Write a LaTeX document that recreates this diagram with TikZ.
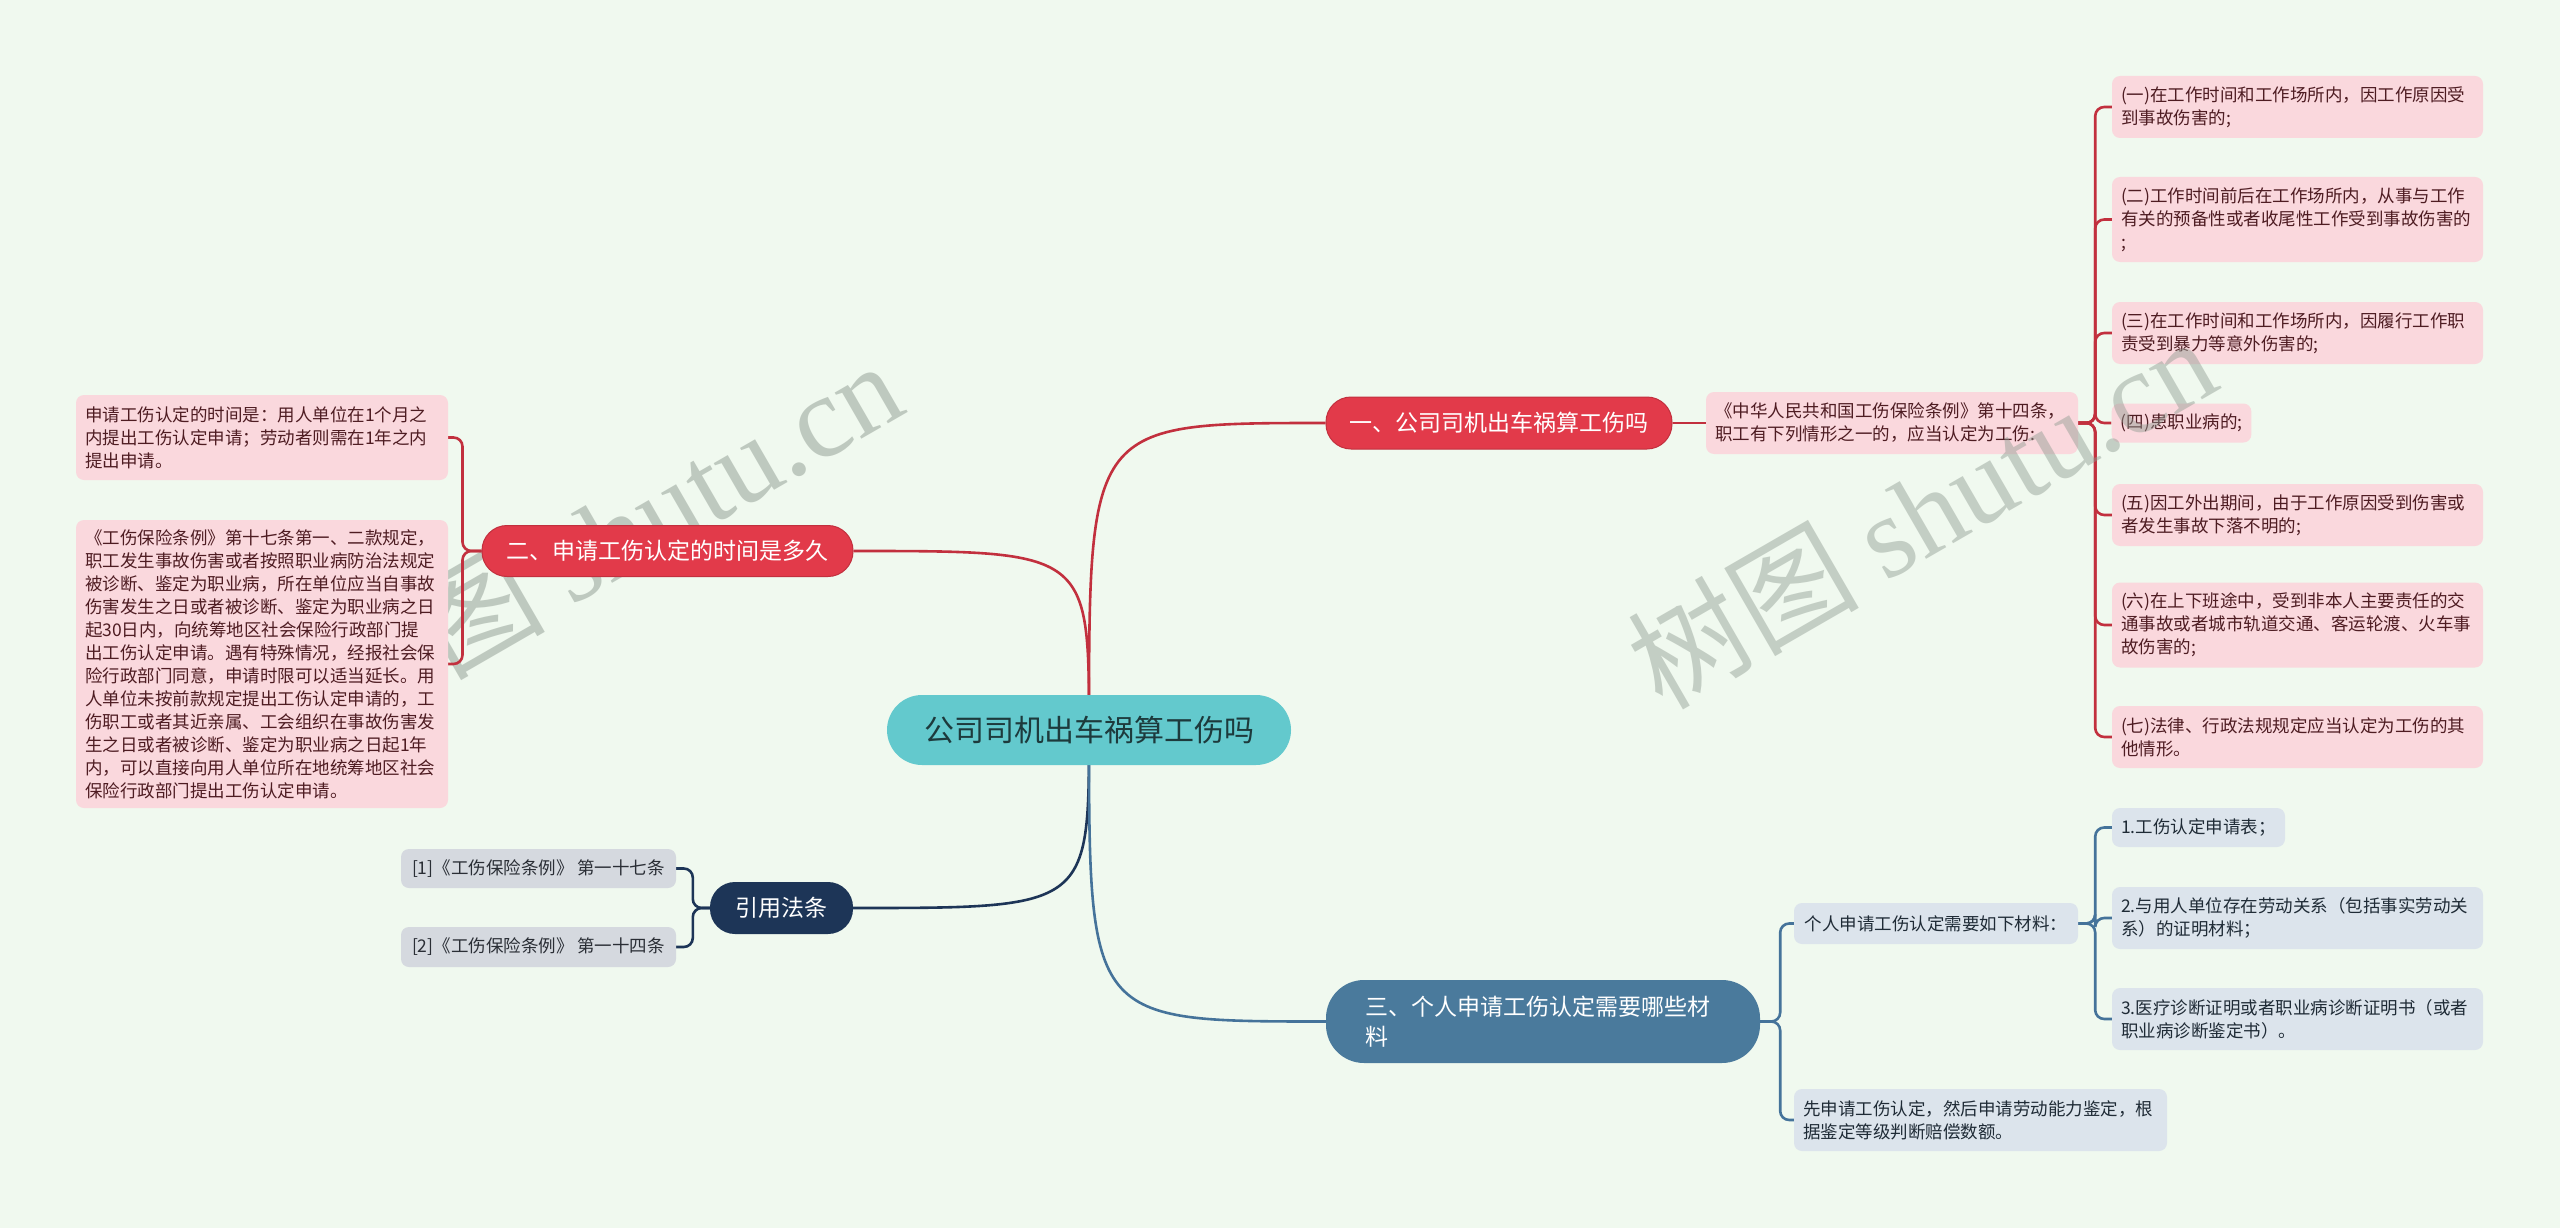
\documentclass[tikz,border=0pt]{standalone}
\usepackage{fontspec}
\setmainfont{Noto Sans CJK SC}
\newfontfamily\wmserif{Liberation Serif}
\usetikzlibrary{calc}
\definecolor{bgc}{HTML}{F0F9EF}
\definecolor{redb}{HTML}{E23A4A}
\definecolor{redline}{HTML}{C2303E}
\definecolor{pinkleaf}{HTML}{FAD8DD}
\definecolor{pinktext}{HTML}{4E1C22}
\definecolor{tealc}{HTML}{63C9CD}
\definecolor{tealtext}{HTML}{1D3A3C}
\definecolor{navy}{HTML}{1D3557}
\definecolor{grayleaf}{HTML}{D5D9DF}
\definecolor{graytext}{HTML}{2A2E35}
\definecolor{blueb}{HTML}{4A7A9C}
\definecolor{blueline}{HTML}{45739A}
\definecolor{blueleaf}{HTML}{DCE4EC}
\definecolor{bluetext}{HTML}{1F2B36}
\definecolor{wmc}{HTML}{8E9A90}
\pgfdeclarelayer{back}
\pgfdeclarelayer{lines}
\pgfdeclarelayer{front}
\pgfsetlayers{back,lines,main,front}
\tikzset{
  box/.style={rounded corners=8pt, inner xsep=9pt, inner ysep=4pt, align=left, font=\fontsize{17.5}{23}\selectfont},
  pinkbox/.style={box, fill=pinkleaf, text=pinktext},
  graybox/.style={box, fill=grayleaf, text=graytext},
  bluebox/.style={box, fill=blueleaf, text=bluetext},
  branch/.style={rounded corners=25pt, inner xsep=14pt, align=center, font=\fontsize{23}{30}\selectfont, text=white},
  redbranch/.style={branch, fill=redb, draw=redline, line width=1pt},
  conn/.style={line width=2.6pt},
  brk/.style={conn, rounded corners=9pt},
  wmark/.style={text=wmc, font=\fontsize{116}{116}\selectfont, inner sep=0pt, anchor=base west, rotate=30},
}
\begin{document}
\begin{tikzpicture}[x=1pt,y=-1pt]
\begin{pgfonlayer}{back}
\fill[bgc] (0,0) rectangle (2560,1228);
\node[wmark, opacity=0.5] (wmleft) at (348,736) {树图 {\wmserif shutu.cn}};
\end{pgfonlayer}
\useasboundingbox (0,0) rectangle (2560,1228);

% root
\node[rounded corners=35pt, fill=tealc, text=tealtext, minimum width=404pt, minimum height=70pt, font=\fontsize{30}{36}\selectfont] (root) at (1089,730) {公司司机出车祸算工伤吗};

% branch 1
\node[redbranch, minimum width=346pt, minimum height=52pt] (b1) at (1499,423) {一、公司司机出车祸算工伤吗};
\node[pinkbox, text width=354pt, minimum height=62pt] (mid) at (1892,423) {《中华人民共和国工伤保险条例》第十四条，\\职工有下列情形之一的，应当认定为工伤:};
\node[pinkbox, text width=353pt, minimum height=62pt] (r1) at (2297.5,107) {(一)在工作时间和工作场所内，因工作原因受\\到事故伤害的;};
\node[pinkbox, text width=353pt, minimum height=85pt] (r2) at (2297.5,219.5) {(二)工作时间前后在工作场所内，从事与工作\\有关的预备性或者收尾性工作受到事故伤害的\\;};
\node[pinkbox, text width=353pt, minimum height=62pt] (r3) at (2297.5,333) {(三)在工作时间和工作场所内，因履行工作职\\责受到暴力等意外伤害的;};
\node[pinkbox, minimum width=139pt, minimum height=39pt] (r4) at (2181.5,423) {(四)患职业病的;};
\node[pinkbox, text width=353pt, minimum height=62pt] (r5) at (2297.5,515) {(五)因工外出期间，由于工作原因受到伤害或\\者发生事故下落不明的;};
\node[pinkbox, text width=353pt, minimum height=85pt] (r6) at (2297.5,625) {(六)在上下班途中，受到非本人主要责任的交\\通事故或者城市轨道交通、客运轮渡、火车事\\故伤害的;};
\node[pinkbox, text width=353pt, minimum height=62pt] (r7) at (2297.5,737) {(七)法律、行政法规规定应当认定为工伤的其\\他情形。};

% branch 2
\node[redbranch, minimum width=371pt, minimum height=51pt] (b2) at (667.5,551) {二、申请工伤认定的时间是多久};
\node[pinkbox, text width=354pt, minimum height=85pt] (l1) at (262,437.5) {申请工伤认定的时间是：用人单位在1个月之\\内提出工伤认定申请；劳动者则需在1年之内\\提出申请。};
\node[pinkbox, text width=354pt, minimum height=288pt] (l2) at (262,664) {《工伤保险条例》第十七条第一、二款规定，\\职工发生事故伤害或者按照职业病防治法规定\\被诊断、鉴定为职业病，所在单位应当自事故\\伤害发生之日或者被诊断、鉴定为职业病之日\\起30日内，向统筹地区社会保险行政部门提\\出工伤认定申请。遇有特殊情况，经报社会保\\险行政部门同意，申请时限可以适当延长。用\\人单位未按前款规定提出工伤认定申请的，工\\伤职工或者其近亲属、工会组织在事故伤害发\\生之日或者被诊断、鉴定为职业病之日起1年\\内，可以直接向用人单位所在地统筹地区社会\\保险行政部门提出工伤认定申请。};

% citations
\node[branch, fill=navy, minimum width=143pt, minimum height=52pt] (nv) at (781.5,908) {引用法条};
\node[graybox, minimum width=275pt, minimum height=39pt] (g1) at (538.5,868.5) {[1]《工伤保险条例》 第一十七条};
\node[graybox, minimum width=275pt, minimum height=40pt] (g2) at (538.5,947) {[2]《工伤保险条例》 第一十四条};

% branch 3
\node[branch, fill=blueb, align=left, rounded corners=38pt, inner xsep=39pt, text width=356pt, minimum height=83pt] (b3) at (1543,1021.5) {三、个人申请工伤认定需要哪些材\\料};
\node[bluebox, minimum width=284pt, minimum height=41pt] (ba) at (1936,923.5) {个人申请工伤认定需要如下材料：};
\node[bluebox, text width=355pt, minimum height=62pt] (bb) at (1980.5,1120) {先申请工伤认定，然后申请劳动能力鉴定，根\\据鉴定等级判断赔偿数额。};
\node[bluebox, minimum width=173pt, minimum height=39pt] (s1) at (2198.5,827.5) {1.工伤认定申请表；};
\node[bluebox, text width=353pt, minimum height=62pt] (s2) at (2297.5,918) {2.与用人单位存在劳动关系（包括事实劳动关\\系）的证明材料；};
\node[bluebox, text width=353pt, minimum height=62pt] (s3) at (2297.5,1019) {3.医疗诊断证明或者职业病诊断证明书（或者\\职业病诊断鉴定书）。};

\begin{pgfonlayer}{lines}
\draw[conn, redline] (root.center) .. controls (root.center |- b1.west) .. (b1.west);
\draw[conn, redline] (root.center) .. controls (root.center |- b2.east) .. (b2.east);
\draw[conn, navy] (root.center) .. controls (root.center |- nv.east) .. (nv.east);
\draw[conn, blueline] (root.center) .. controls (root.center |- b3.west) .. (b3.west);
\draw[conn, redline] (b1.east) -- (mid.west);
\foreach \n in {r1,r2,r3,r4,r5,r6,r7}
  \draw[brk, redline] (mid.east) -- ++(17,0) |- (\n.west);
\foreach \n in {l1,l2}
  \draw[brk, redline] (b2.west) -- ++(-19,0) |- (\n.east);
\foreach \n in {g1,g2}
  \draw[brk, navy] (nv.west) -- ++(-17,0) |- (\n.east);
\foreach \n in {ba,bb}
  \draw[brk, blueline] (b3.east) -- ++(20,0) |- (\n.west);
\foreach \n in {s1,s2,s3}
  \draw[brk, blueline] (ba.east) -- ++(17,0) |- (\n.west);
\end{pgfonlayer}

\begin{pgfonlayer}{front}
\node[wmark, opacity=0.45] (wmright) at (1662,712) {树图 {\wmserif shutu.cn}};
\end{pgfonlayer}
\end{tikzpicture}
\end{document}
